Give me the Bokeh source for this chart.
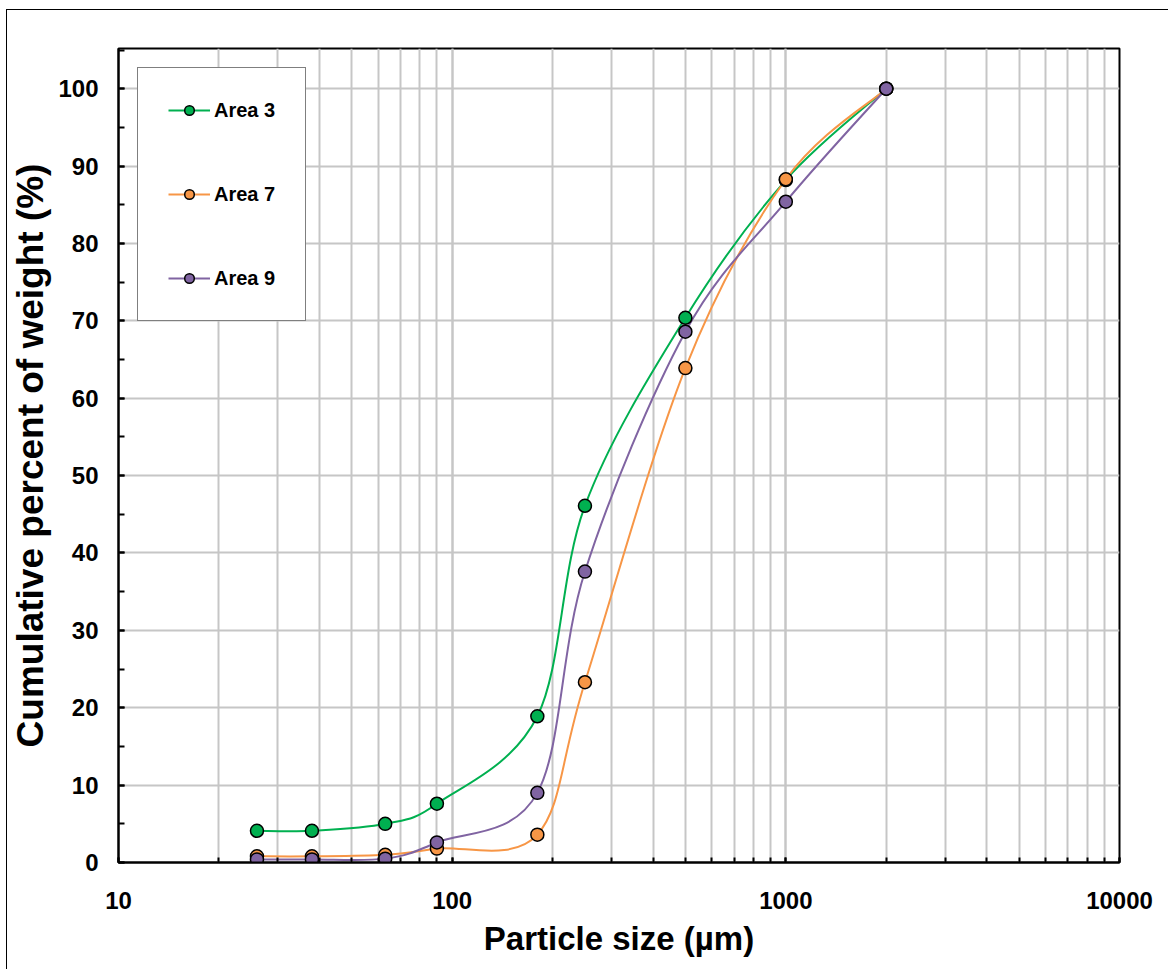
import numpy as np
from bokeh.plotting import figure
from bokeh.models import (Range1d, SingleIntervalTicker, LogTicker,
                          Legend, LegendItem, ColumnDataSource)
from bokeh.embed import file_html
from bokeh.resources import INLINE

# ---------------- data ----------------
sizes_um = [26, 38, 63, 90, 180, 250, 500, 1000, 2000]
area3 = [4.1, 4.1, 5.0, 7.6, 18.9, 46.1, 70.4, 88.2, 100.0]
area7 = [0.8, 0.8, 1.0, 1.8, 3.6, 23.3, 63.9, 88.3, 100.0]
area9 = [0.4, 0.4, 0.5, 2.6, 9.0, 37.6, 68.6, 85.4, 100.0]
series_names = ["Area 3", "Area 7", "Area 9"]
series_colors = ["#00B050", "#F79646", "#8064A2"]
x_ticks = [10, 100, 1000, 10000]

FONT = "Liberation Sans"

p = figure(width=1161, height=959, x_axis_type="log",
           x_range=Range1d(10, 10000), y_range=Range1d(0, 105.2),
           output_backend="svg", toolbar_location=None,
           min_border_left=111, min_border_right=49,
           min_border_top=38, min_border_bottom=107)
p.styles = {"outline": "1px solid black", "margin-left": "7px",
            "margin-top": "10px"}

p.outline_line_color = "black"
p.outline_line_width = 2
p.background_fill_color = "white"
p.border_fill_color = "white"

# grid
p.xgrid.grid_line_color = "#c6c6c6"
p.xgrid.grid_line_width = 2
p.xgrid.minor_grid_line_color = "#c6c6c6"
p.xgrid.minor_grid_line_width = 2
p.ygrid.grid_line_color = "#c6c6c6"
p.ygrid.grid_line_width = 2

# axes
xa = p.xaxis[0]
xa.ticker = LogTicker(desired_num_ticks=4, num_minor_ticks=10, mantissas=[1])
xa.axis_line_color = "black"
xa.axis_line_width = 2
xa.major_tick_in = 5
xa.major_tick_out = 0
xa.minor_tick_in = 5
xa.minor_tick_out = 0
xa.major_tick_line_color = "black"
xa.minor_tick_line_color = "black"
xa.major_tick_line_width = 2
xa.minor_tick_line_width = 2
xa.major_label_text_font = FONT
xa.major_label_text_font_style = "bold"
xa.major_label_text_font_size = "24px"
xa.major_label_text_color = "black"
xa.major_label_standoff = 29
xa.major_label_overrides = {v: str(v) for v in x_ticks}
xa.axis_label = "Particle size (µm)"
xa.axis_label_text_font = FONT
xa.axis_label_text_font_style = "bold"
xa.axis_label_text_font_size = "33px"
xa.axis_label_text_color = "black"
xa.axis_label_standoff = 8

ya = p.yaxis[0]
ya.ticker = SingleIntervalTicker(interval=10, num_minor_ticks=2)
ya.axis_line_color = "black"
ya.axis_line_width = 2
ya.major_tick_in = 6
ya.major_tick_out = 0
ya.minor_tick_in = 6
ya.minor_tick_out = 0
ya.major_tick_line_color = "black"
ya.minor_tick_line_color = "black"
ya.major_tick_line_width = 2
ya.minor_tick_line_width = 2
ya.major_label_text_font = FONT
ya.major_label_text_font_style = "bold"
ya.major_label_text_font_size = "24px"
ya.major_label_text_color = "black"
ya.major_label_standoff = 20
ya.axis_label = "Cumulative percent of weight (%)"
ya.axis_label_text_font = FONT
ya.axis_label_text_font_style = "bold"
ya.axis_label_text_font_size = "37px"
ya.axis_label_text_color = "black"
ya.axis_label_standoff = 4


def smooth_segments(xs, ys):
    """Bezier segments (Catmull-Rom style, like spreadsheet smoothed lines),
    built in log10(x)/y space and mapped back to data units."""
    u = np.log10(np.asarray(xs, dtype=float))
    v = np.asarray(ys, dtype=float)
    n = len(u)
    x0, y0, x1, y1, cx0, cy0, cx1, cy1 = ([] for _ in range(8))
    for i in range(n - 1):
        i0 = max(i - 1, 0)
        i3 = min(i + 2, n - 1)
        c1u = u[i] + (u[i + 1] - u[i0]) / 6.0
        c1v = v[i] + (v[i + 1] - v[i0]) / 6.0
        c2u = u[i + 1] - (u[i3] - u[i]) / 6.0
        c2v = v[i + 1] - (v[i3] - v[i]) / 6.0
        x0.append(xs[i]); y0.append(ys[i])
        x1.append(xs[i + 1]); y1.append(ys[i + 1])
        cx0.append(10 ** c1u); cy0.append(c1v)
        cx1.append(10 ** c2u); cy1.append(c2v)
    return dict(x0=x0, y0=y0, x1=x1, y1=y1, cx0=cx0, cy0=cy0, cx1=cx1, cy1=cy1)


all_series = [area3, area7, area9]
for name, vals, col in zip(series_names, all_series, series_colors):
    src = ColumnDataSource(smooth_segments(sizes_um, vals))
    p.bezier(x0="x0", y0="y0", x1="x1", y1="y1", cx0="cx0", cy0="cy0",
             cx1="cx1", cy1="cy1", source=src, line_color=col, line_width=2)

legend_items = []
for name, vals, col in zip(series_names, all_series, series_colors):
    # single-point line: invisible on the plot, gives the legend its line sample
    lr = p.line(x=[sizes_um[0]], y=[vals[0]], line_color=col, line_width=2)
    sr = p.scatter(x=sizes_um, y=vals, size=13, marker="circle",
                   fill_color=col, line_color="black", line_width=1.5)
    legend_items.append(LegendItem(label=name, renderers=[lr, sr]))

legend = Legend(items=legend_items, location="top_left", margin=19,
                padding=30, spacing=60, label_height=24, glyph_height=24,
                glyph_width=42, label_standoff=4,
                label_text_font=FONT, label_text_font_style="bold",
                label_text_font_size="20px", label_text_color="black",
                border_line_color="black", border_line_width=1.5,
                background_fill_color="white", background_fill_alpha=1.0)
p.add_layout(legend, "center")

open("out.html", "w").write(file_html(p, INLINE))
